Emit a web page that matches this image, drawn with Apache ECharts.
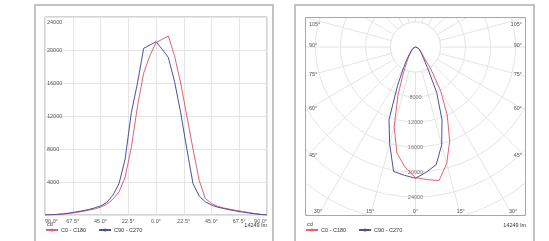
<!DOCTYPE html>
<html>
<head>
<meta charset="utf-8">
<script src="https://cdn.jsdelivr.net/npm/echarts@6/dist/echarts.min.js"></script>
<style>
  html, body { margin: 0; padding: 0; background: #fff; }
  #main { position: absolute; left: 0; top: 0; width: 549px; height: 241px; }
  #polar { position: absolute; left: 305px; top: 17px; width: 221px; height: 199px; }
</style>
</head>
<body>
<div id="main"></div>
<div id="polar"></div>
<script>
// gamma angles (deg), 5 deg steps
const angles = [-90, -85, -80, -75, -70, -65, -60, -55, -50, -45, -40, -35, -30, -25, -20, -15, -10, -5,
    0, 5, 10, 15, 20, 25, 30, 35, 40, 45, 50, 55, 60, 65, 70, 75, 80, 85, 90];
// luminous intensity, cd
const c0c180 = [0, 20, 60, 110, 200, 300, 420, 560, 720, 950, 1300, 1900, 2800, 4600, 8200, 13200, 17200, 19300,
    20900, 21300, 21700, 19300, 16000, 12000, 8000, 4200, 2000, 1400, 1050, 850, 700, 560, 430, 300, 180, 80, 0];
const c90c270 = [0, 30, 80, 150, 250, 370, 500, 650, 850, 1100, 1500, 2400, 3800, 6800, 12400, 16000, 20200, 20600,
    21000, 20100, 19100, 16200, 12400, 8000, 3800, 2300, 1600, 1200, 950, 780, 620, 480, 360, 250, 150, 60, 0];
const seriesNames = ['C0 - C180', 'C90 - C270'];
const ringLabels = [8000, 12000, 16000, 20000, 24000];
const angleLabels = [0, 15, 30, 45, 60, 75, 90, 105];
const fluxText = '14249 lm';
const unitText = 'cd';

const RED = '#e2636b';
const BLUE = '#4b4f9e';
const GRID = '#e4e4e4';
const FONT = 'Liberation Sans';
const FS = 5.5;
const TXT = '#555';

function pairs(vals) {
    return angles.map((a, i) => [a, vals[i]]);
}
function polarPairs(vals) {
    return angles.map((a, i) => [vals[i], a < 0 ? a + 360 : a]);
}

// ---- left: cartesian diagram + frames and footers ----
const main = echarts.init(document.getElementById('main'));

function footer(x0, right) {
    return [
        { type: 'text', left: x0 + 2, top: 221, style: { text: unitText, fontSize: FS, fontFamily: FONT, fill: '#333' } },
        { type: 'text', right: 549 - right, top: 222, style: { text: fluxText, fontSize: FS, fontFamily: FONT, fill: '#333' } }
    ];
}

main.setOption({
    animation: false,
    grid: { left: 45, top: 17, width: 222, height: 198, show: true, borderColor: '#a8a8a8', borderWidth: 1 },
    xAxis: {
        type: 'value', min: -90, max: 90, interval: 22.5,
        axisLine: { show: false }, axisTick: { show: false },
        splitLine: { show: true, lineStyle: { color: GRID, width: 1 } },
        axisLabel: {
            margin: 3, fontSize: FS, fontFamily: FONT, color: TXT,
            alignMinLabel: 'left', alignMaxLabel: 'right',
            formatter: v => Math.abs(v).toFixed(1) + '°'
        }
    },
    yAxis: {
        type: 'value', min: 0, max: 24000, interval: 4000,
        axisLine: { show: false }, axisTick: { show: false },
        splitLine: { show: true, lineStyle: { color: GRID, width: 1 } },
        axisLabel: {
            inside: true, margin: 2, fontSize: FS, fontFamily: FONT, color: TXT,
            showMinLabel: false,
            formatter: v => v === 24000 ? '{t|24000}' : String(v),
            rich: { t: { fontSize: FS, fontFamily: FONT, color: TXT, padding: [10, 0, 0, 0] } }
        }
    },
    legend: [
        { left: 45, top: 227, itemWidth: 12, itemHeight: 4, itemGap: 12, padding: 0,
          textStyle: { fontSize: FS, fontFamily: FONT, color: '#333', padding: [0, 0, 0, -2] }, data: seriesNames },
        { left: 305, top: 227, itemWidth: 12, itemHeight: 4, itemGap: 12, padding: 0,
          textStyle: { fontSize: FS, fontFamily: FONT, color: '#333', padding: [0, 0, 0, -2] }, data: seriesNames }
    ],
    graphic: [
        { type: 'rect', shape: { x: 35, y: 5, width: 238, height: 260 }, style: { fill: 'none', stroke: '#b0b0b0', lineWidth: 1.5 } },
        { type: 'rect', shape: { x: 295, y: 5, width: 239, height: 260 }, style: { fill: 'none', stroke: '#b0b0b0', lineWidth: 1.5 } }
    ].concat(footer(45, 267), footer(305, 526)),
    series: [
        { name: seriesNames[0], type: 'line', symbol: 'none', data: pairs(c0c180), lineStyle: { color: RED, width: 1 }, itemStyle: { color: RED } },
        { name: seriesNames[1], type: 'line', symbol: 'none', data: pairs(c90c270), lineStyle: { color: BLUE, width: 1 }, itemStyle: { color: BLUE } }
    ]
});

// ---- right: polar diagram, clipped by its own canvas ----
const PW = 221, PH = 199, CX = 110.5, CY = 30, R = 200, RMAX = 32000;
const polar = echarts.init(document.getElementById('polar'));

// place angle labels where each ray leaves the plot box
function angleLabelGraphics() {
    const out = [];
    angleLabels.forEach(deg => {
        const sides = deg === 0 ? [1] : [-1, 1];
        sides.forEach(s => {
            const th = deg * Math.PI / 180;
            const dx = s * Math.sin(th), dy = Math.cos(th);
            const tx = Math.abs(dx) < 1e-6 ? Infinity : (dx > 0 ? PW - CX : CX) / Math.abs(dx);
            const ty = Math.abs(dy) < 1e-6 ? Infinity : (dy > 0 ? (PH - CY) / dy : CY / -dy);
            const t = Math.min(tx, ty);
            const px = CX + dx * t, py = CY + dy * t;
            let x, y, align;
            if (tx <= ty) {
                align = s > 0 ? 'right' : 'left';
                x = s > 0 ? PW - 4 : 4;
                y = Math.max(7, Math.min(PH - 12, py - 2));
            } else {
                align = 'center';
                x = Math.max(9, Math.min(PW - 9, px));
                y = PH - 5;
            }
            out.push({ type: 'text', x: x, y: y, z: 10,
                style: { text: deg + '°', fontSize: FS, fontFamily: FONT, fill: TXT, align: align, verticalAlign: 'middle' } });
        });
    });
    return out;
}

polar.setOption({
    animation: false,
    polar: { center: [CX, CY], radius: R },
    angleAxis: {
        type: 'value', min: 0, max: 360, interval: 15, startAngle: 270, clockwise: false,
        axisLine: { show: false }, axisTick: { show: false }, axisLabel: { show: false },
        splitLine: { show: true, lineStyle: { color: GRID, width: 1 } }
    },
    radiusAxis: {
        type: 'value', min: 0, max: RMAX, interval: 4000,
        axisLine: { show: false }, axisTick: { show: false }, axisLabel: { show: false },
        splitLine: { show: true, lineStyle: { color: GRID, width: 1 } }
    },
    graphic: [
        // the innermost ring is kept free of radial lines
        { type: 'circle', z: 1, shape: { cx: CX, cy: CY, r: R * 4000 / RMAX }, style: { fill: '#fff', stroke: GRID, lineWidth: 1 } },
        { type: 'rect', z: 10, shape: { x: 0.5, y: 0.5, width: PW - 1, height: PH - 1 }, style: { fill: 'none', stroke: '#a8a8a8', lineWidth: 1 } }
    ].concat(angleLabelGraphics()),
    series: [
        { name: seriesNames[0], type: 'line', coordinateSystem: 'polar', symbol: 'none', z: 3, data: polarPairs(c0c180), lineStyle: { color: RED, width: 1 } },
        { name: seriesNames[1], type: 'line', coordinateSystem: 'polar', symbol: 'none', z: 3, data: polarPairs(c90c270), lineStyle: { color: BLUE, width: 1 } },
        { type: 'scatter', coordinateSystem: 'polar', symbolSize: 0, silent: true,
          data: ringLabels.map(v => [v, 0]),
          label: { show: true, position: 'inside', fontSize: FS, fontFamily: FONT, color: TXT, formatter: p => String(p.value[0]) } }
    ]
});
</script>
</body>
</html>
